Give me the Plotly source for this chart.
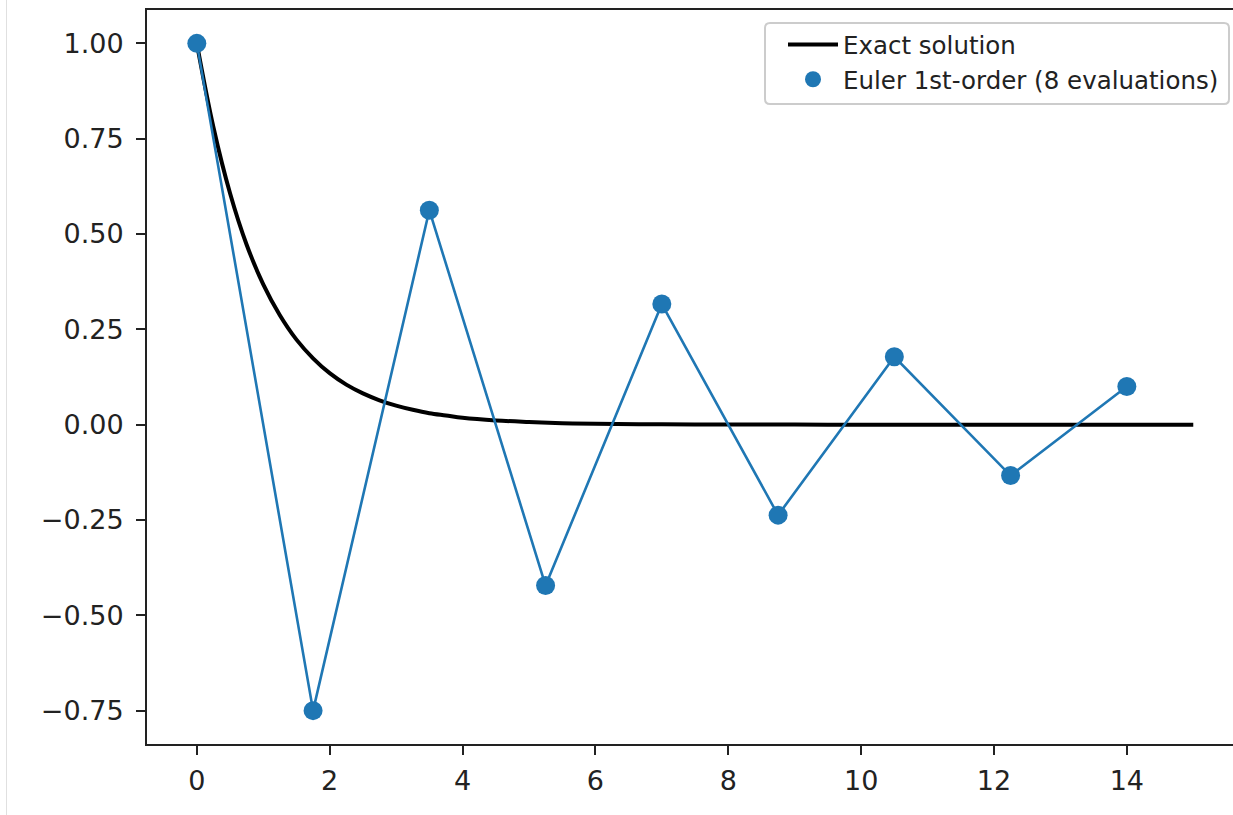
import plotly.graph_objects as go

# Exact solution y(t) sampled along t
exact_t = [0, 0.25, 0.5, 0.75, 1.0, 1.25, 1.5, 1.75, 2.0, 2.25, 2.5, 2.75, 3.0, 3.25, 3.5, 3.75,
           4.0, 4.5, 5.0, 5.5, 6.0, 7.0, 8.0, 9.0, 10.0, 11.0, 12.0, 13.0, 14.0, 15.0]
exact_y = [1.00, 0.78, 0.607, 0.472, 0.368, 0.287, 0.223, 0.174, 0.135, 0.105, 0.082, 0.064,
           0.050, 0.039, 0.030, 0.024, 0.018, 0.011, 0.007, 0.004, 0.0025, 0.0009, 0.0003,
           0.0001, 0.0, 0.0, 0.0, 0.0, 0.0, 0.0]

# Forward Euler iterates (step 1.75)
euler_t = [0.0, 1.75, 3.5, 5.25, 7.0, 8.75, 10.5, 12.25, 14.0]
euler_y = [1.0, -0.75, 0.5625, -0.4219, 0.3164, -0.2373, 0.1780, -0.1335, 0.1001]

x_ticks = [0, 2, 4, 6, 8, 10, 12, 14]
y_ticks = [-0.75, -0.50, -0.25, 0.00, 0.25, 0.50, 0.75, 1.00]
y_tick_text = [f"{v:.2f}".replace("-", "\u2212") for v in y_ticks]

BLUE = "#1f77b4"
AXIS = "#222222"

fig = go.Figure()
fig.add_trace(go.Scatter(
    x=exact_t, y=exact_y, mode="lines", name="Exact solution",
    line=dict(color="black", width=4, shape="spline", smoothing=1.0),
))
fig.add_trace(go.Scatter(
    x=euler_t, y=euler_y, mode="lines", showlegend=False,
    line=dict(color=BLUE, width=2.6),
))
fig.add_trace(go.Scatter(
    x=euler_t, y=euler_y, mode="markers", name="Euler 1st-order (8 evaluations)",
    marker=dict(color=BLUE, size=19),
))

W, H = 1233, 815
L, T, B = 147, 10, 71
PW, PH = W - L, H - T - B
px_per_unit = 66.43
x_left = -0.75
x_right = x_left + PW / px_per_unit


def xp(px):
    return (px - L) / PW


def yp(py):
    return 1 - (py - T) / PH


# Rounded legend frame (pixel box converted to paper coordinates)
bx0, bx1, by0, by1, r = 765, 1229, 23, 104, 5
frame = (
    f"M {xp(bx0 + r)},{yp(by0)} L {xp(bx1 - r)},{yp(by0)} "
    f"Q {xp(bx1)},{yp(by0)} {xp(bx1)},{yp(by0 + r)} "
    f"L {xp(bx1)},{yp(by1 - r)} Q {xp(bx1)},{yp(by1)} {xp(bx1 - r)},{yp(by1)} "
    f"L {xp(bx0 + r)},{yp(by1)} Q {xp(bx0)},{yp(by1)} {xp(bx0)},{yp(by1 - r)} "
    f"L {xp(bx0)},{yp(by0 + r)} Q {xp(bx0)},{yp(by0)} {xp(bx0 + r)},{yp(by0)} Z"
)

fig.update_layout(
    width=W, height=H,
    margin=dict(l=L, r=0, t=T, b=B, pad=0),
    paper_bgcolor="white", plot_bgcolor="white",
    font=dict(family="DejaVu Sans", size=27, color="black"),
    showlegend=True,
    legend=dict(
        x=xp(783), y=yp(22), xanchor="left", yanchor="top",
        bgcolor="rgba(0,0,0,0)", borderwidth=0,
        font=dict(family="DejaVu Sans", size=24.5, color="#222222"),
        tracegroupgap=0, itemwidth=50,
    ),
    xaxis=dict(
        range=[x_left, x_right], tickvals=x_ticks,
        showgrid=False, zeroline=False,
        showline=True, linecolor=AXIS, linewidth=2, mirror=True,
        ticks="outside", ticklen=9, tickwidth=2, tickcolor=AXIS,
        tickfont=dict(size=27, color=AXIS), ticklabelstandoff=3,
    ),
    yaxis=dict(
        range=[-0.8375, 1.0875], tickvals=y_ticks, ticktext=y_tick_text,
        showgrid=False, zeroline=False,
        showline=True, linecolor=AXIS, linewidth=2, mirror=False,
        ticks="outside", ticklen=9, tickwidth=2, tickcolor=AXIS,
        tickfont=dict(size=27, color=AXIS), ticklabelstandoff=7,
    ),
    shapes=[
        dict(
            type="line", xref="paper", yref="paper",
            x0=xp(6.5), x1=xp(6.5), y0=yp(H), y1=yp(0),
            line=dict(color="#e0e0e0", width=1),
        ),
        dict(
            type="path", xref="paper", yref="paper", path=frame, layer="above",
            fillcolor="rgba(255,255,255,0.8)", line=dict(color="#cccccc", width=2),
        ),
    ],
)

fig.write_html("out.html")
